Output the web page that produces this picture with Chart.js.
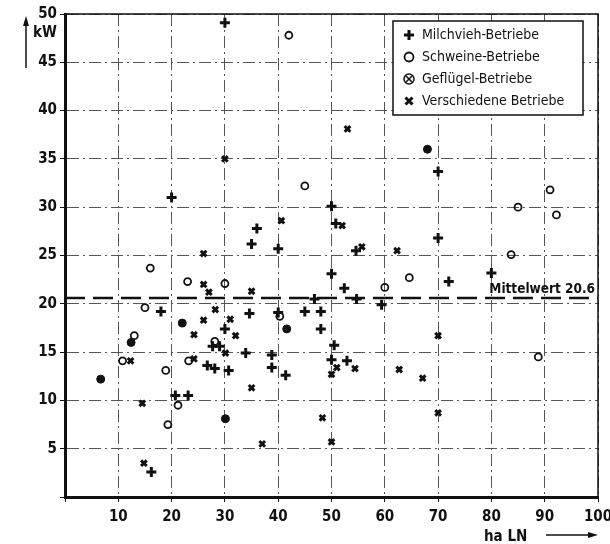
<!DOCTYPE html>
<html>
<head>
<meta charset="utf-8">
<script src="https://cdn.jsdelivr.net/npm/chart.js@4"></script>
<style>
html,body{margin:0;padding:0;background:#fff;}
#c{display:block;}
</style>
</head>
<body>
<canvas id="c" width="610" height="544"></canvas>
<script>
// ---- data ----
const xTicks = [10,20,30,40,50,60,70,80,90,100];
const yTicks = [5,10,15,20,25,30,35,40,45,50];
const seriesNames = ['Milchvieh-Betriebe','Schweine-Betriebe','Geflügel-Betriebe','Verschiedene Betriebe'];
const milchvieh = [[30,49.1],[20,31.0],[35,26.2],[18,19.2],[34.6,19.0],[50,30.1],[36,27.8],[50.8,28.3],[40,25.7],[54.6,25.5],[50,23.1],[52.4,21.6],[46.8,20.5],[54.7,20.5],[59.4,19.9],[40,19.1],[45,19.2],[48,19.2],[48,17.4],[70,33.7],[70,26.8],[80,23.2],[72,22.3],[30,17.4],[27.7,15.6],[29,15.6],[33.9,14.9],[26.7,13.6],[28.1,13.3],[30.7,13.1],[20.7,10.5],[23.1,10.5],[16.2,2.6],[38.8,14.7],[38.8,13.4],[41.4,12.6],[50.5,15.7],[50,14.2],[52.9,14.1]];
const schweine = [[42,47.8],[16,23.7],[23,22.3],[30,22.1],[15,19.6],[45,32.2],[64.6,22.7],[60,21.7],[40.3,18.7],[91,31.8],[85,30],[92.2,29.2],[83.7,25.1],[13,16.7],[28.1,16.1],[10.8,14.1],[23.2,14.1],[18.9,13.1],[21.2,9.5],[19.3,7.5],[88.8,14.5]];
const gefluegel = [[68,36],[22,18],[41.6,17.4],[12.4,16],[6.7,12.2],[30.1,8.1]];
const verschiedene = [[30,35],[53,38.1],[26,25.2],[26,22],[27,21.2],[28.2,19.4],[26,18.3],[31,18.4],[40.6,28.6],[52,28.1],[55.7,25.9],[62.3,25.5],[35,21.3],[24.2,16.8],[32,16.7],[30.1,14.9],[12.3,14.1],[24.2,14.3],[14.5,9.7],[14.8,3.5],[35,11.3],[51,13.4],[54.4,13.3],[50,12.7],[62.7,13.2],[67.1,12.3],[48.3,8.2],[37,5.5],[50,5.7],[70,16.7],[70,8.7]];
const meanValue = 20.6;
const meanLabel = 'Mittelwert 20.6';
const xTitle = 'ha LN';
const yTitle = 'kW';

// ---- chart ----
const FONT = "'DejaVu Sans Condensed', 'Liberation Sans Narrow', 'DejaVu Sans', sans-serif";
const toPts = a => a.map(p => ({x:p[0], y:p[1]}));

const styles = [
  {pointStyle:'cross', radius:5, borderWidth:3, fill:false},
  {pointStyle:'circle', radius:3.5, borderWidth:1.8, fill:false},
  {pointStyle:'circle', radius:4, borderWidth:1, fill:true},
  {pointStyle:'crossRot', radius:4, borderWidth:3, fill:false}
];
const seriesData = [milchvieh, schweine, gefluegel, verschiedene];

const datasets = seriesData.map((d,i) => ({
  type:'scatter',
  label: seriesNames[i],
  data: toPts(d),
  pointStyle: styles[i].pointStyle,
  pointRadius: styles[i].radius,
  pointHoverRadius: styles[i].radius,
  pointBorderWidth: styles[i].borderWidth,
  borderColor:'#111',
  backgroundColor: styles[i].fill ? '#111' : 'rgba(0,0,0,0)',
  showLine:false
}));
datasets.push({
  type:'line',
  label:'mean',
  data:[{x:0,y:meanValue},{x:100,y:meanValue}],
  borderColor:'#111',
  borderWidth:2.5,
  borderDash:[20,8],
  pointRadius:0,
  fill:false
});

function drawMarker(ctx, kind, x, y){
  ctx.save();
  ctx.strokeStyle='#111'; ctx.fillStyle='#111';
  if(kind===0){ ctx.lineWidth=3; ctx.beginPath(); ctx.moveTo(x-5,y); ctx.lineTo(x+5,y); ctx.moveTo(x,y-5); ctx.lineTo(x,y+5); ctx.stroke(); }
  else if(kind===1){ ctx.lineWidth=1.8; ctx.beginPath(); ctx.arc(x,y,4.5,0,Math.PI*2); ctx.stroke(); }
  else if(kind===2){ ctx.lineWidth=1.5; ctx.beginPath(); ctx.arc(x,y,5,0,Math.PI*2); ctx.stroke();
    ctx.lineWidth=1.5; ctx.beginPath(); ctx.moveTo(x-3,y-3); ctx.lineTo(x+3,y+3); ctx.moveTo(x+3,y-3); ctx.lineTo(x-3,y+3); ctx.stroke(); }
  else { ctx.lineWidth=3; ctx.beginPath(); ctx.moveTo(x-3.5,y-3.5); ctx.lineTo(x+3.5,y+3.5); ctx.moveTo(x+3.5,y-3.5); ctx.lineTo(x-3.5,y+3.5); ctx.stroke(); }
  ctx.restore();
}

const decor = {
  id:'decor',
  afterDraw(chart){
    const ctx = chart.ctx, a = chart.chartArea;
    const xs = chart.scales.x, ys = chart.scales.y;
    ctx.save();
    // top and right frame
    ctx.strokeStyle='#111'; ctx.lineWidth=1.5;
    ctx.beginPath(); ctx.moveTo(a.left,a.top); ctx.lineTo(a.right,a.top); ctx.lineTo(a.right,a.bottom); ctx.stroke();
    // y title with arrow
    ctx.fillStyle='#111';
    ctx.lineWidth=1.5;
    ctx.beginPath(); ctx.moveTo(26,68); ctx.lineTo(26,22); ctx.stroke();
    ctx.beginPath(); ctx.moveTo(26,16); ctx.lineTo(23,26); ctx.lineTo(29,26); ctx.closePath(); ctx.fill();
    ctx.font = "bold 15px " + FONT;
    ctx.textAlign='center'; ctx.textBaseline='middle';
    ctx.fillText(yTitle, 45, 33);
    // x title with arrow
    ctx.font = "bold 15px " + FONT;
    ctx.textAlign='left'; ctx.textBaseline='alphabetic';
    ctx.fillText(xTitle, 484, 541);
    ctx.beginPath(); ctx.moveTo(546,535); ctx.lineTo(590,535); ctx.stroke();
    ctx.beginPath(); ctx.moveTo(598,535); ctx.lineTo(588,532); ctx.lineTo(588,538); ctx.closePath(); ctx.fill();
    // mean label
    const ym = ys.getPixelForValue(meanValue);
    ctx.font = "bold 13.5px " + FONT;
    ctx.textAlign='right'; ctx.textBaseline='alphabetic';
    ctx.fillText(meanLabel, a.right-3, ym-5);
    // legend box
    const lx=393, ly=21, lw=190, lh=94;
    ctx.fillStyle='#fff'; ctx.fillRect(lx,ly,lw,lh);
    ctx.strokeStyle='#111'; ctx.lineWidth=1.5; ctx.strokeRect(lx,ly,lw,lh);
    ctx.fillStyle='#111';
    ctx.font = "14px " + FONT;
    ctx.textAlign='left'; ctx.textBaseline='middle';
    const rows=[35,57,79,101];
    seriesNames.forEach((n,i)=>{
      drawMarker(ctx,i,409,rows[i]);
      ctx.fillStyle='#111';
      ctx.fillText(n,422,rows[i]);
    });
    ctx.restore();
  }
};

new Chart(document.getElementById('c'), {
  data:{datasets},
  options:{
    responsive:false,
    devicePixelRatio:1,
    animation:false,
    layout:{padding:{top:14,right:12,left:0,bottom:0}},
    plugins:{legend:{display:false}, tooltip:{enabled:false}},
    scales:{
      x:{
        type:'linear', min:0, max:100,
        afterFit(s){ s.height = 47; s.paddingRight = 0; s.paddingLeft = 0; },
        afterBuildTicks(s){ s.ticks = [0].concat(xTicks).map(v=>({value:v})); },
        ticks:{ callback:v => v===0 ? '' : String(v), color:'#111', padding:6, maxRotation:0,
          font:{family:FONT, size:15, weight:'bold'} },
        grid:{ color:'#555', lineWidth:1, tickLength:5, tickColor:'#111' },
        border:{ display:true, color:'#111', width:3, dash:[12,4,2,4] }
      },
      y:{
        type:'linear', min:0, max:50,
        afterFit(s){ s.width = 65; s.paddingTop = 0; s.paddingBottom = 0; },
        afterBuildTicks(s){ s.ticks = [0].concat(yTicks).map(v=>({value:v})); },
        ticks:{ callback:v => v===0 ? '' : String(v), color:'#111', padding:3,
          font:{family:FONT, size:15, weight:'bold'} },
        grid:{ color:'#555', lineWidth:1, tickLength:5, tickColor:'#111' },
        border:{ display:true, color:'#111', width:3, dash:[12,4,2,4] }
      }
    }
  },
  plugins:[decor]
});
</script>
</body>
</html>
